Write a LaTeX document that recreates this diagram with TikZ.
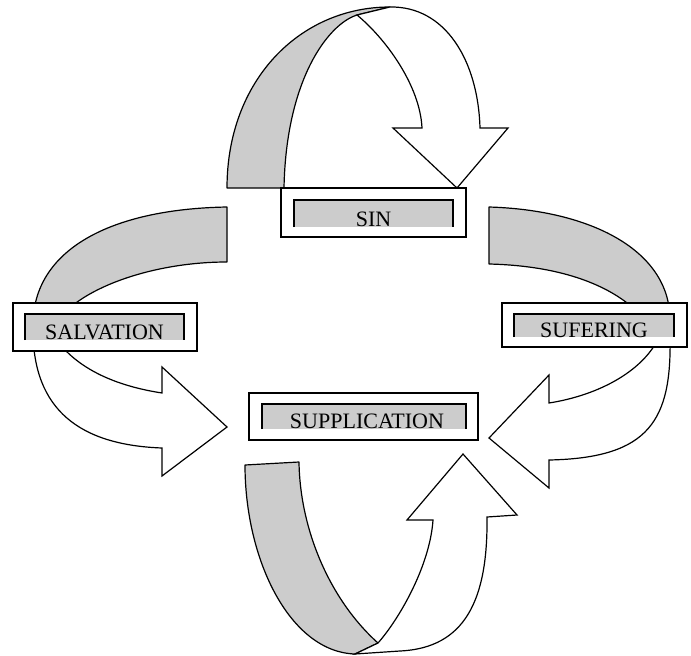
\documentclass[tikz,border=0pt]{standalone}
\usepackage{fontspec}
\setmainfont{Liberation Serif}
\definecolor{bandgray}{RGB}{204,204,204}

\begin{document}
\begin{tikzpicture}[x=1pt,y=-1pt,
    back/.style={draw=black,line width=1.2,fill=bandgray,line join=round},
    front/.style={draw=black,line width=1.2,fill=white},
    outerbox/.style={draw=black,line width=1.5,fill=white,inner sep=0},
    word/.style={anchor=base,inner sep=0,font=\fontsize{22pt}{22pt}\selectfont}]
    \useasboundingbox (0,0) rectangle (691,656);
    % top arrow, back half
    \draw [back] (227,188) .. controls (227,80) and (300,7) .. (390,7) -- (357,15) .. controls (328,24) and (286,80) .. (284,188) -- cycle;
    % top arrow, front half
    \draw [front] (357,15) -- (390,7) .. controls (445,6) and (478,60) .. (480,128) -- (508,128) -- (457,188) -- (393,128) -- (422,128) .. controls (420,85) and (385,38) .. (357,15) -- cycle;
    % left arrow, back half
    \draw [back] (33,325) .. controls (33,250) and (110,209) .. (227,207) -- (227,262) .. controls (150,262) and (75,290) .. (55,325) -- cycle;
    % left arrow, front half
    \draw [front] (33,330) .. controls (33,410) and (80,445) .. (162,448) -- (162,476) -- (227,427) -- (162,367) -- (162,393) .. controls (110,385) and (70,365) .. (50,330) -- cycle;
    % right arrow, back half
    \draw [back] (489,207) .. controls (590,210) and (670,250) .. (670,320) -- (645,320) .. controls (620,290) and (570,266) .. (489,264) -- cycle;
    % right arrow, front half
    \draw [front] (670,335) .. controls (672,420) and (650,458) .. (549,460) -- (549,488) -- (489,438) -- (549,375) -- (549,403) .. controls (600,395) and (645,370) .. (660,335) -- cycle;
    % bottom arrow, back half
    \draw [back] (245,465) .. controls (245,560) and (290,652) .. (355,654) -- (378,643) .. controls (330,600) and (300,530) .. (299,462) -- cycle;
    % bottom arrow, front half
    \draw [front] (378,643) -- (355,654) -- (400,651) .. controls (465,648) and (488,600) .. (487,517) -- (517,515) -- (463,454) -- (407,520) -- (433,520) .. controls (430,565) and (400,618) .. (378,643) -- cycle;
    % SIN box
    \node [outerbox,minimum width=185,minimum height=49] (sinbox) at (373.5,212.5) {};
    \fill [bandgray] (294,200) rectangle (453,227);
    \draw [line width=1.5] (294,227) -- (294,200) -- (453,200) -- (453,227);
    \node [word] (sin) at (373.5,226) {SIN};
    % SALVATION box
    \node [outerbox,minimum width=184,minimum height=48] (salvationbox) at (105,327) {};
    \fill [bandgray] (25,314) rectangle (184,340);
    \draw [line width=1.5] (25,340) -- (25,314) -- (184,314) -- (184,340);
    \node [word] (salvation) at (104.5,339) {SALVATION};
    % SUFERING box
    \node [outerbox,minimum width=185,minimum height=44] (suferingbox) at (594.5,325) {};
    \fill [bandgray] (514,314) rectangle (674,337);
    \draw [line width=1.5] (514,337) -- (514,314) -- (674,314) -- (674,337);
    \node [word] (sufering) at (594,337) {SUFERING};
    % SUPPLICATION box
    \node [outerbox,minimum width=229,minimum height=47] (supplicationbox) at (363.5,416.5) {};
    \fill [bandgray] (262,404) rectangle (466,429);
    \draw [line width=1.5] (262,429) -- (262,404) -- (466,404) -- (466,429);
    \node [word] (supplication) at (367,428.5) {SUPPLICATION};
\end{tikzpicture}
\end{document}
